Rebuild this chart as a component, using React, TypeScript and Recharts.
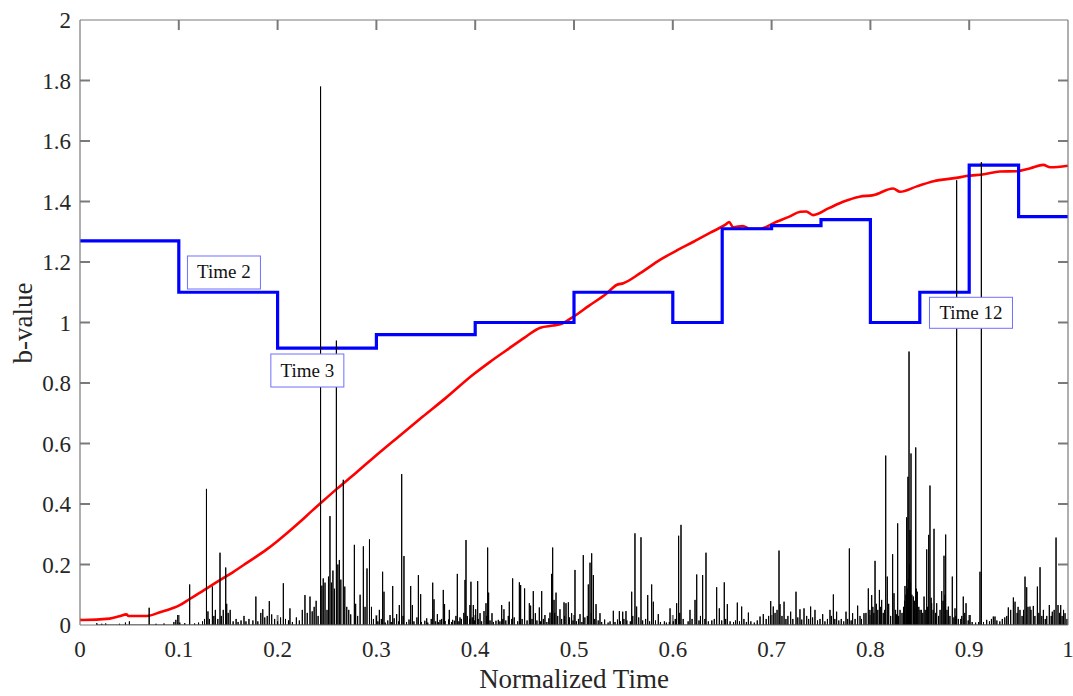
import React from 'react';
import { ComposedChart, Line, XAxis, YAxis, ReferenceDot, ReferenceLine } from 'recharts';

// ---------- data ----------
const xTicks = [0, 0.1, 0.2, 0.3, 0.4, 0.5, 0.6, 0.7, 0.8, 0.9, 1];
const yTicks = [0, 0.2, 0.4, 0.6, 0.8, 1, 1.2, 1.4, 1.6, 1.8, 2];

// blue step b-value per window (start time, value)
const stepTimes = [0, 0.1, 0.2, 0.3, 0.4, 0.5, 0.6, 0.65, 0.7, 0.75, 0.8, 0.85, 0.9, 0.95, 1.0];
const stepValues = [1.27, 1.1, 0.915, 0.96, 1.0, 1.1, 1.0, 1.31, 1.32, 1.34, 1.0, 1.1, 1.52, 1.35, 1.35];

// red smooth b-value curve
const curveTimes = [0, 0.003, 0.03, 0.04, 0.047, 0.049, 0.0675, 0.081, 0.094, 0.1, 0.111, 0.128, 0.14, 0.155, 0.17, 0.189, 0.2, 0.21, 0.223, 0.235, 0.246, 0.26, 0.28, 0.297, 0.32, 0.347, 0.37, 0.398, 0.415, 0.432, 0.45, 0.466, 0.479, 0.4875, 0.4993, 0.515, 0.533, 0.543, 0.55, 0.567, 0.587, 0.605, 0.621, 0.638, 0.654, 0.657, 0.661, 0.671, 0.678, 0.688, 0.705, 0.718, 0.729, 0.735, 0.742, 0.758, 0.773, 0.789, 0.803, 0.823, 0.83, 0.847, 0.864, 0.887, 0.897, 0.915, 0.931, 0.948, 0.962, 0.975, 0.982, 1.0];
const curveValues = [0.017, 0.0165, 0.021, 0.029, 0.035, 0.03, 0.03, 0.042, 0.056, 0.064, 0.086, 0.12, 0.145, 0.175, 0.208, 0.25, 0.278, 0.305, 0.342, 0.378, 0.41, 0.45, 0.505, 0.553, 0.616, 0.689, 0.75, 0.828, 0.87, 0.909, 0.95, 0.983, 0.99, 0.996, 1.019, 1.055, 1.096, 1.124, 1.13, 1.163, 1.207, 1.24, 1.267, 1.297, 1.325, 1.332, 1.315, 1.319, 1.31, 1.31, 1.333, 1.35, 1.366, 1.367, 1.355, 1.378, 1.4, 1.416, 1.421, 1.443, 1.432, 1.45, 1.467, 1.478, 1.484, 1.49, 1.499, 1.5, 1.51, 1.521, 1.513, 1.518];

// black event stems: [time, height]
const majorSpikes: [number, number][] = [
  [0.017, 0.006], [0.022, 0.004], [0.026, 0.005], [0.04, 0.004], [0.046, 0.008], [0.05, 0.012],
  [0.07, 0.057], [0.077, 0.004], [0.085, 0.005], [0.095, 0.01], [0.097, 0.017], [0.099, 0.033],
  [0.101, 0.008], [0.106, 0.006], [0.111, 0.134], [0.116, 0.005], [0.12, 0.008], [0.124, 0.012],
  [0.126, 0.02], [0.128, 0.45], [0.1295, 0.045], [0.131, 0.02], [0.134, 0.127], [0.1355, 0.03],
  [0.137, 0.05], [0.1395, 0.02], [0.1417, 0.239], [0.143, 0.03], [0.145, 0.05], [0.1475, 0.19],
  [0.1485, 0.07], [0.15, 0.04], [0.152, 0.05], [0.155, 0.012], [0.158, 0.02], [0.16, 0.01],
  [0.163, 0.015], [0.166, 0.03], [0.168, 0.012], [0.171, 0.02], [0.175, 0.015], [0.178, 0.094],
  [0.18, 0.012], [0.183, 0.04], [0.185, 0.052], [0.187, 0.025], [0.1895, 0.03], [0.1916, 0.079],
  [0.194, 0.035], [0.197, 0.02], [0.2, 0.012], [0.203, 0.025], [0.2058, 0.138], [0.208, 0.02],
  [0.211, 0.015], [0.2125, 0.055], [0.215, 0.01], [0.219, 0.025], [0.222, 0.015], [0.225, 0.05],
  [0.2277, 0.099], [0.23, 0.04], [0.2328, 0.094], [0.235, 0.045], [0.237, 0.06], [0.239, 0.08],
  [0.241, 0.03], [0.2435, 1.78], [0.2448, 0.13], [0.2462, 0.154], [0.248, 0.14], [0.25, 0.05],
  [0.2515, 0.16], [0.253, 0.36], [0.2545, 0.14], [0.256, 0.18], [0.2575, 0.12], [0.2595, 0.94],
  [0.261, 0.2], [0.2625, 0.215], [0.264, 0.15], [0.2665, 0.48], [0.268, 0.127], [0.27, 0.06],
  [0.272, 0.05], [0.274, 0.035], [0.2777, 0.265], [0.279, 0.07], [0.281, 0.03], [0.2835, 0.1],
  [0.2868, 0.26], [0.2885, 0.06], [0.2905, 0.187], [0.293, 0.283], [0.295, 0.06], [0.297, 0.02],
  [0.3, 0.03], [0.303, 0.05],
  [0.3063, 0.176], [0.3077, 0.11], [0.3138, 0.033], [0.3165, 0.129], [0.3205, 0.036], [0.3232, 0.066],
  [0.3256, 0.499], [0.3279, 0.228], [0.3347, 0.129], [0.3364, 0.066], [0.3425, 0.165], [0.3448, 0.102],
  [0.3509, 0.022], [0.357, 0.14], [0.3583, 0.085], [0.3617, 0.036], [0.3644, 0.017], [0.3677, 0.116],
  [0.369, 0.069], [0.3738, 0.05], [0.3772, 0.017], [0.3819, 0.169], [0.3846, 0.025], [0.3897, 0.149],
  [0.3907, 0.281], [0.3947, 0.066], [0.3957, 0.143], [0.3981, 0.066], [0.4005, 0.052], [0.4025, 0.145],
  [0.4049, 0.039], [0.4089, 0.046], [0.4109, 0.072], [0.4126, 0.256], [0.4136, 0.107], [0.417, 0.039],
  [0.4234, 0.017], [0.4268, 0.066], [0.4291, 0.052], [0.4345, 0.077], [0.4379, 0.154], [0.4447, 0.141],
  [0.446, 0.132], [0.45, 0.121], [0.4548, 0.072], [0.4561, 0.064], [0.4588, 0.112], [0.4609, 0.039],
  [0.4649, 0.058], [0.4673, 0.112], [0.4706, 0.033], [0.4757, 0.041], [0.4773, 0.169], [0.4784, 0.256],
  [0.4798, 0.083], [0.4818, 0.107], [0.4858, 0.052], [0.4899, 0.075], [0.4919, 0.072], [0.4943, 0.075],
  [0.4976, 0.039], [0.501, 0.182], [0.5061, 0.036], [0.5094, 0.231], [0.5145, 0.134], [0.5162, 0.206],
  [0.5179, 0.237], [0.5196, 0.165], [0.5223, 0.069], [0.5263, 0.039], [0.5398, 0.047], [0.5459, 0.046],
  [0.5493, 0.044], [0.5526, 0.046], [0.5584, 0.11], [0.5617, 0.303], [0.5634, 0.061], [0.5678, 0.29],
  [0.5746, 0.099], [0.5786, 0.134], [0.5803, 0.077], [0.5853, 0.036], [0.5972, 0.055], [0.6039, 0.072],
  [0.6059, 0.295], [0.6083, 0.331], [0.6174, 0.05], [0.6225, 0.083], [0.6242, 0.167], [0.6302, 0.165],
  [0.6336, 0.239],
  [0.6444, 0.125], [0.6471, 0.055], [0.6521, 0.141], [0.6552, 0.069], [0.6653, 0.074], [0.6697, 0.061],
  [0.6765, 0.041], [0.6883, 0.028], [0.6916, 0.036], [0.6991, 0.079], [0.7017, 0.061], [0.7075, 0.246],
  [0.7085, 0.069], [0.7126, 0.077], [0.7193, 0.044], [0.7247, 0.11], [0.7287, 0.052], [0.7328, 0.055],
  [0.7395, 0.061], [0.7439, 0.05], [0.7517, 0.036], [0.7591, 0.05], [0.7625, 0.101], [0.7658, 0.044],
  [0.7753, 0.044], [0.7787, 0.253], [0.782, 0.039], [0.7871, 0.064], [0.7935, 0.039], [0.7979, 0.121],
  [0.8013, 0.099], [0.8047, 0.212], [0.8091, 0.116], [0.8114, 0.083], [0.8155, 0.56], [0.8171, 0.16],
  [0.8225, 0.234], [0.8239, 0.105], [0.8276, 0.336], [0.83, 0.05],
  [0.835, 0.129], [0.8367, 0.356], [0.838, 0.49], [0.8391, 0.904], [0.8401, 0.314], [0.8411, 0.567],
  [0.8435, 0.094], [0.8459, 0.587], [0.8475, 0.11], [0.8502, 0.05], [0.8543, 0.094], [0.857, 0.25],
  [0.859, 0.298], [0.8603, 0.461], [0.862, 0.072], [0.8644, 0.318], [0.8671, 0.072], [0.8722, 0.112],
  [0.8745, 0.229], [0.8762, 0.299], [0.8789, 0.061], [0.8829, 0.16], [0.8856, 0.055], [0.8873, 1.47],
  [0.894, 0.094], [0.8968, 0.072], [0.9008, 0.033], [0.9109, 0.176], [0.9123, 1.53], [0.9177, 0.017],
  [0.9261, 0.028],
  [0.9244, 0.028], [0.9396, 0.058], [0.9447, 0.091], [0.9464, 0.077], [0.9514, 0.05], [0.9565, 0.16],
  [0.9582, 0.125], [0.9615, 0.061], [0.9649, 0.063], [0.969, 0.127], [0.9717, 0.191], [0.9751, 0.05],
  [0.9811, 0.066], [0.9841, 0.044], [0.9879, 0.289], [0.9899, 0.066], [0.9926, 0.066], [0.997, 0.039],
];

const minorSpikes: [number, number][] = [
  [0.3015, 0.012], [0.305, 0.02], [0.309, 0.008], [0.3115, 0.015], [0.315, 0.01], [0.318, 0.022],
  [0.3225, 0.012], [0.327, 0.03], [0.3305, 0.01], [0.333, 0.018], [0.338, 0.012], [0.341, 0.025],
  [0.3455, 0.01], [0.349, 0.014], [0.352, 0.008], [0.3555, 0.02], [0.36, 0.012], [0.363, 0.009],
  [0.366, 0.02], [0.3695, 0.013], [0.373, 0.018], [0.376, 0.01], [0.379, 0.014], [0.3805, 0.03],
  [0.3835, 0.012], [0.386, 0.02], [0.3885, 0.04], [0.392, 0.03], [0.3945, 0.02], [0.397, 0.025],
  [0.3995, 0.015], [0.403, 0.02], [0.4065, 0.012], [0.4115, 0.03], [0.415, 0.015], [0.4185, 0.01],
  [0.421, 0.014], [0.425, 0.012], [0.428, 0.02], [0.431, 0.015], [0.4335, 0.03], [0.437, 0.02],
  [0.4395, 0.025], [0.443, 0.012], [0.4475, 0.02], [0.4525, 0.015], [0.4575, 0.02], [0.4625, 0.015],
  [0.466, 0.012], [0.469, 0.02], [0.4725, 0.01], [0.4745, 0.022], [0.4805, 0.04], [0.4835, 0.03],
  [0.4875, 0.02], [0.4905, 0.03], [0.4955, 0.025], [0.499, 0.015], [0.5025, 0.012], [0.5045, 0.02],
  [0.508, 0.01], [0.511, 0.025], [0.5135, 0.03], [0.5175, 0.04], [0.521, 0.02], [0.5245, 0.015],
  [0.528, 0.01], [0.531, 0.018], [0.5345, 0.008], [0.5365, 0.012], [0.5415, 0.01], [0.544, 0.018],
  [0.547, 0.012], [0.5505, 0.02], [0.5535, 0.015], [0.557, 0.012], [0.5595, 0.03], [0.5655, 0.025],
  [0.5695, 0.015], [0.5725, 0.02], [0.5765, 0.012], [0.5825, 0.015], [0.5875, 0.01], [0.5915, 0.012],
  [0.5935, 0.008], [0.5965, 0.01], [0.6005, 0.012], [0.6025, 0.02], [0.607, 0.04], [0.6105, 0.02],
  [0.6155, 0.012], [0.6195, 0.02], [0.6265, 0.015], [0.628, 0.03], [0.6325, 0.02], [0.636, 0.012],
  [0.6395, 0.015], [0.642, 0.02], [0.6495, 0.015], [0.6535, 0.02], [0.658, 0.012], [0.6615, 0.01],
  [0.6635, 0.015], [0.6675, 0.012], [0.672, 0.02], [0.6745, 0.01], [0.679, 0.012], [0.6825, 0.008],
  [0.6855, 0.015], [0.6945, 0.02], [0.697, 0.03], [0.7035, 0.04], [0.7055, 0.05], [0.7105, 0.03],
  [0.7145, 0.02], [0.7165, 0.03], [0.7215, 0.02], [0.7265, 0.025], [0.7305, 0.018], [0.7355, 0.03],
  [0.7375, 0.02], [0.7415, 0.025], [0.7465, 0.015], [0.749, 0.02], [0.754, 0.012], [0.7565, 0.02],
  [0.7605, 0.03], [0.764, 0.02], [0.768, 0.015], [0.7705, 0.02], [0.773, 0.012], [0.777, 0.02],
  [0.7805, 0.015], [0.7845, 0.02], [0.7895, 0.03], [0.791, 0.02], [0.7955, 0.04], [0.7995, 0.05],
  [0.8025, 0.06], [0.8035, 0.04], [0.806, 0.07], [0.8075, 0.05], [0.81, 0.06], [0.813, 0.04],
  [0.8145, 0.05], [0.8185, 0.07], [0.8205, 0.03], [0.8255, 0.05], [0.8265, 0.035], [0.8285, 0.03],
  [0.832, 0.04], [0.8335, 0.06], [0.8345, 0.08], [0.836, 0.1], [0.8375, 0.12], [0.8385, 0.15],
  [0.8395, 0.2], [0.8405, 0.14], [0.842, 0.1], [0.8445, 0.08], [0.8465, 0.12], [0.849, 0.06],
  [0.8515, 0.05], [0.853, 0.04], [0.8555, 0.05], [0.858, 0.06], [0.8615, 0.09], [0.8635, 0.05],
  [0.866, 0.04], [0.869, 0.03], [0.8705, 0.05], [0.8735, 0.08], [0.8755, 0.1], [0.8775, 0.05],
  [0.8805, 0.03], [0.8845, 0.025], [0.8865, 0.03], [0.889, 0.02], [0.8915, 0.02], [0.8925, 0.03],
  [0.8955, 0.04], [0.899, 0.015], [0.903, 0.01], [0.9065, 0.008], [0.9095, 0.01], [0.9145, 0.01],
  [0.9205, 0.012], [0.9225, 0.02], [0.928, 0.015], [0.931, 0.012], [0.9335, 0.02],
  [0.936, 0.025], [0.938, 0.03], [0.942, 0.05], [0.9485, 0.04], [0.9495, 0.06], [0.9535, 0.03],
  [0.955, 0.05], [0.9595, 0.06], [0.9625, 0.05], [0.9665, 0.03], [0.9705, 0.04], [0.9735, 0.03],
  [0.977, 0.02], [0.9785, 0.03], [0.983, 0.03], [0.986, 0.05], [0.9915, 0.04], [0.994, 0.03],
  [0.9955, 0.05], [0.999, 0.02],
];

// annotation boxes (data coordinates of the box centre)
const annotationLabels = ['Time 2', 'Time 3', 'Time 12'];
const annotationTimes = [0.1457, 0.2301, 0.9018];
const annotationValues = [1.1653, 0.8413, 1.0321];

// ---------- derived tables ----------
const stepData = stepTimes.map((t, i) => ({ t, v: stepValues[i] }));
const curveData = curveTimes.map((t, i) => ({ t, v: curveValues[i] }));
const stemData = [...majorSpikes, ...minorSpikes]
  .sort((a, b) => a[0] - b[0])
  .flatMap(([t, h]) => [{ t, v: 0 }, { t, v: h }, { t, v: 0 }]);

const FONT = '"Liberation Serif", "Times New Roman", Times, serif';
const AXIS = '#7a7a7a';
const TEXT = '#262626';
const X_MARGIN = 16;
const Y_MARGIN = 9;
// inward tick length expressed in axis units (10 px of the 988 x 605 px plot)
const TICK_DX = 10 / 988;
const TICK_DY = (10 / 605) * 2;

const fmt = (v: number) => String(Math.round(v * 10) / 10);

const BottomTick = (props: any) => {
  const { x, y, payload } = props;
  return (
    <text x={x} y={y} dy="0.71em" textAnchor="middle" fontFamily={FONT} fontSize={23} fill={TEXT}>
      {fmt(payload.value)}
    </text>
  );
};

const LeftTick = (props: any) => {
  const { x, y, payload } = props;
  return (
    <text x={x} y={y} dy="0.36em" textAnchor="end" fontFamily={FONT} fontSize={23} fill={TEXT}>
      {fmt(payload.value)}
    </text>
  );
};

const AnnotationBox = (props: any) => {
  const { cx, cy, text } = props;
  if (cx == null || cy == null) return null;
  const w = text.length > 6 ? 83 : 73;
  const h = text.length > 6 ? 31 : 33;
  return (
    <g>
      <rect x={cx - w / 2} y={cy - h / 2} width={w} height={h} fill="#ffffff" stroke="#7070ff" strokeWidth={1} />
      <text x={cx} y={cy + 6} textAnchor="middle" fontFamily={FONT} fontSize={19} fill="#111">
        {text}
      </text>
    </g>
  );
};

const YLabel = () => (
  <text x={32} y={323} transform="rotate(-90, 32, 323)" textAnchor="middle" fontFamily={FONT} fontSize={27} fill={TEXT}>
    b-value
  </text>
);

const innerX = xTicks.slice(1, -1);
const innerY = yTicks.slice(1, -1);

export default function App() {
  return (
    <div style={{ position: 'absolute', left: 0, top: 0, width: 1073, height: 696, background: '#fff' }}>
      <ComposedChart
        width={1073}
        height={696}
        margin={{ top: 19, right: 4, bottom: 0, left: 0 }}
        style={{ fontFamily: FONT }}
      >
        <XAxis
          xAxisId="b"
          dataKey="t"
          type="number"
          domain={[0, 1]}
          ticks={xTicks}
          allowDataOverflow
          orientation="bottom"
          height={71}
          tickSize={0}
          tickMargin={X_MARGIN}
          tickLine={false}
          tick={<BottomTick />}
          axisLine={{ stroke: AXIS, strokeWidth: 1.2 }}
          label={{ value: 'Normalized Time', position: 'insideBottom', offset: 8, fontSize: 27, fill: TEXT, fontFamily: FONT }}
        />
        <XAxis
          xAxisId="t"
          dataKey="t"
          type="number"
          domain={[0, 1]}
          ticks={xTicks}
          allowDataOverflow
          orientation="top"
          height={1}
          tickLine={false}
          tick={false}
          axisLine={{ stroke: AXIS, strokeWidth: 1.2 }}
        />
        <YAxis
          yAxisId="l"
          type="number"
          domain={[0, 2]}
          ticks={yTicks}
          allowDataOverflow
          orientation="left"
          width={80}
          tickSize={0}
          tickMargin={Y_MARGIN}
          tickLine={false}
          tick={<LeftTick />}
          axisLine={{ stroke: AXIS, strokeWidth: 1.2 }}
          label={<YLabel />}
        />
        <YAxis
          yAxisId="r"
          type="number"
          domain={[0, 2]}
          ticks={yTicks}
          allowDataOverflow
          orientation="right"
          width={1}
          tickLine={false}
          tick={false}
          axisLine={{ stroke: AXIS, strokeWidth: 1.2 }}
        />
        {innerX.map((t) => (
          <ReferenceLine key={`xb${t}`} xAxisId="b" yAxisId="l" ifOverflow="visible"
            segment={[{ x: t, y: 0 }, { x: t, y: TICK_DY }]} stroke={AXIS} strokeWidth={2} />
        ))}
        {innerX.map((t) => (
          <ReferenceLine key={`xt${t}`} xAxisId="b" yAxisId="l" ifOverflow="visible"
            segment={[{ x: t, y: 2 }, { x: t, y: 2 - TICK_DY }]} stroke={AXIS} strokeWidth={2} />
        ))}
        {innerY.map((v) => (
          <ReferenceLine key={`yl${v}`} xAxisId="b" yAxisId="l" ifOverflow="visible"
            segment={[{ x: 0, y: v }, { x: TICK_DX, y: v }]} stroke={AXIS} strokeWidth={2} />
        ))}
        {innerY.map((v) => (
          <ReferenceLine key={`yr${v}`} xAxisId="b" yAxisId="l" ifOverflow="visible"
            segment={[{ x: 1, y: v }, { x: 1 - TICK_DX, y: v }]} stroke={AXIS} strokeWidth={2} />
        ))}
        <Line
          xAxisId="b"
          yAxisId="l"
          data={curveData}
          dataKey="v"
          type="monotone"
          stroke="#ff0000"
          strokeWidth={2.6}
          dot={false}
          activeDot={false}
          isAnimationActive={false}
        />
        <Line
          xAxisId="b"
          yAxisId="l"
          data={stepData}
          dataKey="v"
          type="stepAfter"
          stroke="#0000ff"
          strokeWidth={3.2}
          dot={false}
          activeDot={false}
          isAnimationActive={false}
        />
        {annotationLabels.map((text, i) => (
          <ReferenceDot
            key={text}
            xAxisId="b"
            yAxisId="l"
            x={annotationTimes[i]}
            y={annotationValues[i]}
            r={1}
            shape={(p: any) => <AnnotationBox {...p} text={text} />}
          />
        ))}
        <Line
          xAxisId="b"
          yAxisId="l"
          data={stemData}
          dataKey="v"
          type="linear"
          stroke="#000000"
          strokeWidth={1}
          dot={false}
          activeDot={false}
          isAnimationActive={false}
        />
      </ComposedChart>
    </div>
  );
}
